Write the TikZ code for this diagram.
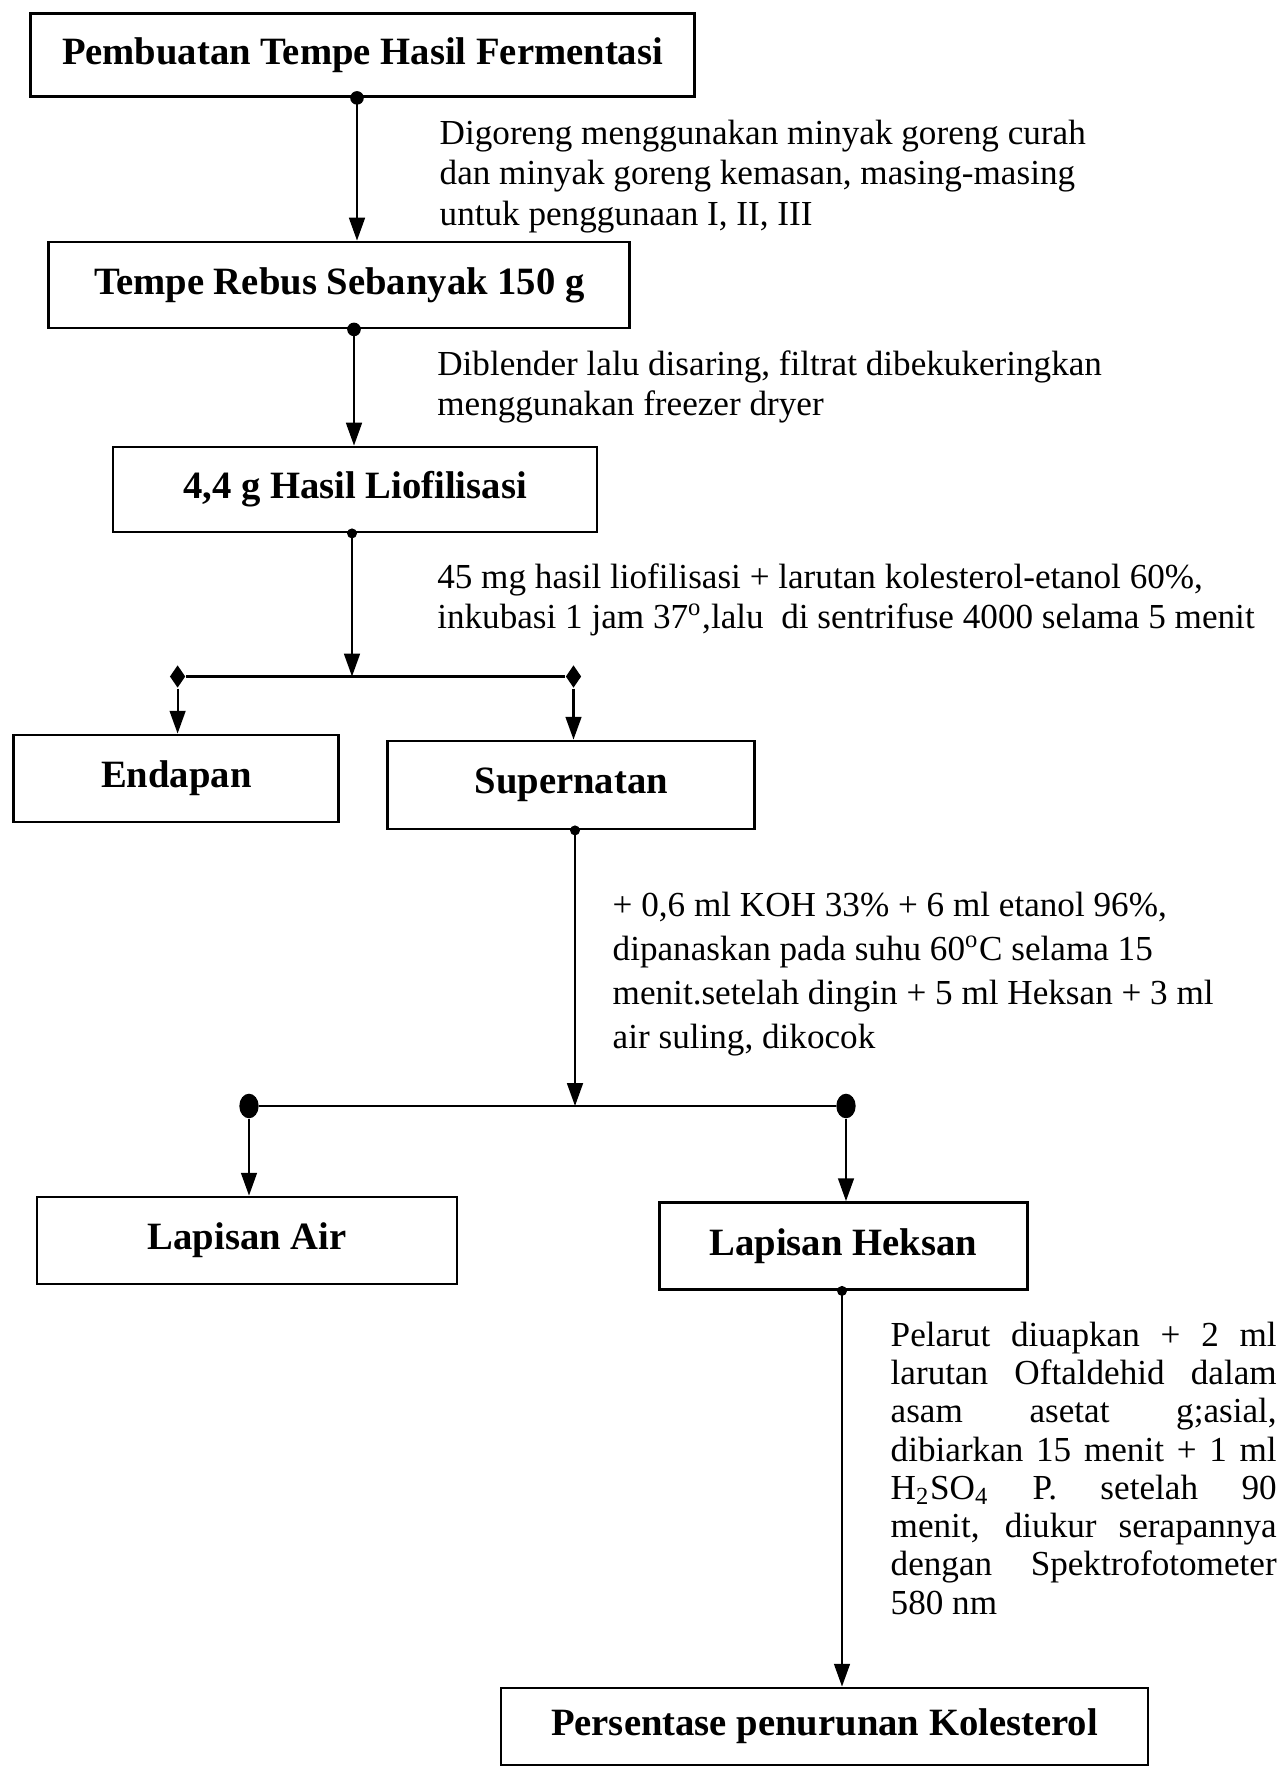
\documentclass[tikz,border=0pt]{standalone}
\usepackage{fontspec}
\setmainfont{Liberation Serif}
\usetikzlibrary{arrows.meta, shapes.geometric, calc}

\begin{document}
\begin{tikzpicture}[
	kotak/.style={draw, line width=0.8pt, inner sep=0pt, font=\bfseries\fontsize{11}{13}\selectfont},
	ket/.style={anchor=north west, inner sep=0pt, align=left, font=\fontsize{10}{11.5}\selectfont},
	panah/.style={line width=0.6pt, -{Triangle[length=6.5pt,width=4.5pt]}},
	garis/.style={line width=0.7pt},
	belah/.style={diamond, fill, inner sep=0pt, minimum width=4.5pt, minimum height=6.5pt},
	bulat/.style={ellipse, fill, inner sep=0pt, minimum width=5.5pt, minimum height=7pt}
]
	\useasboundingbox (0,0) rectangle (12.85,-17.73);
	% kotak
	\node[kotak, minimum width=6.64cm, minimum height=0.83cm] (fermentasi) at (3.625,-0.55) {Pembuatan Tempe Hasil Fermentasi};
	\node[kotak, minimum width=5.81cm, minimum height=0.86cm] (rebus) at (3.393,-2.85) {Tempe Rebus Sebanyak 150 g};
	\node[kotak, minimum width=4.84cm, minimum height=0.85cm] (liofil) at (3.55,-4.895) {4,4 g Hasil Liofilisasi};
	\node[kotak, minimum width=3.25cm, minimum height=0.87cm] (endapan) at (1.763,-7.785) {Endapan};
	\node[kotak, minimum width=3.67cm, minimum height=0.88cm] (super) at (5.713,-7.85) {Supernatan};
	\node[kotak, minimum width=4.20cm, minimum height=0.87cm] (air) at (2.47,-12.405) {Lapisan Air};
	\node[kotak, minimum width=3.68cm, minimum height=0.87cm] (heksan) at (8.433,-12.46) {Lapisan Heksan};
	\node[kotak, minimum width=6.47cm, minimum height=0.77cm] (persen) at (8.245,-17.265) {Persentase penurunan Kolesterol};

	% keterangan
	\node[ket, font=\fontsize{10}{11.6}\selectfont] (k1) at (4.39,-1.19) {Digoreng menggunakan minyak goreng curah\\dan minyak goreng kemasan, masing-masing\\untuk penggunaan I, II, III};
	\node[ket, font=\fontsize{10}{11.3}\selectfont] (k2) at (4.366,-3.50) {Diblender lalu disaring, filtrat dibekukeringkan\\menggunakan freezer dryer};
	\node[ket, font=\fontsize{10}{11.3}\selectfont] (k3) at (4.366,-5.63) {45 mg hasil liofilisasi + larutan kolesterol-etanol 60\%,\\inkubasi 1 jam 37\textsuperscript{o},lalu\ \ di sentrifuse 4000 selama 5 menit};
	\node[ket, font=\fontsize{10}{12.6}\selectfont] (k4) at (6.12,-8.91) {+ 0,6 ml KOH 33\% + 6 ml etanol 96\%,\\dipanaskan pada suhu 60\textsuperscript{o}C selama 15\\menit.setelah dingin + 5 ml Heksan + 3 ml\\air suling, dikocok};
	\node[ket, align=justify, text width=3.86cm, font=\fontsize{10}{10.9}\selectfont] (k5) at (8.90,-13.21) {Pelarut diuapkan + 2 ml\linebreak larutan Oftaldehid dalam\linebreak asam asetat g;asial,\linebreak dibiarkan 15 menit + 1 ml\linebreak H\textsubscript{2}SO\textsubscript{4} P. setelah 90\linebreak menit, diukur serapannya\linebreak dengan Spektrofotometer\linebreak 580 nm};

	% titik cabang
	\coordinate (x1) at (3.57,0);
	\coordinate (x2) at (3.54,0);
	\coordinate (x3) at (3.52,0);
	\coordinate (x4) at (5.75,0);
	\coordinate (x5) at (8.42,0);
	\coordinate (c1) at (3.52,-6.765);
	\node[belah] (c1a) at (1.776,-6.765) {};
	\node[belah] (c1b) at (5.735,-6.765) {};
	\coordinate (c2) at (5.75,-11.06);
	\node[bulat] (c2a) at (2.49,-11.06) {};
	\node[bulat] (c2b) at (8.46,-11.06) {};

	% panah
	\fill (fermentasi.south -| x1) circle (0.068);
	\draw[panah] (fermentasi.south -| x1) -- (rebus.north -| x1);
	\fill (rebus.south -| x2) circle (0.068);
	\draw[panah] (rebus.south -| x2) -- (liofil.north -| x2);
	\fill (liofil.south -| x3) circle (0.05);
	\draw[panah] (liofil.south -| x3) -- (c1);
	\draw[garis] (c1a) -- (c1b);
	\draw[panah] (c1a) -- (endapan.north -| c1a);
	\draw[panah] (c1b) -- (super.north -| c1b);
	\fill (super.south -| x4) circle (0.05);
	\draw[panah] (super.south -| x4) -- (c2);
	\draw[garis] (c2a) -- (c2b);
	\draw[panah] (c2a) -- (air.north -| c2a);
	\draw[panah] (c2b) -- (heksan.north -| c2b);
	\fill (heksan.south -| x5) circle (0.05);
	\draw[panah] (heksan.south -| x5) -- (persen.north -| x5);
\end{tikzpicture}
\end{document}
